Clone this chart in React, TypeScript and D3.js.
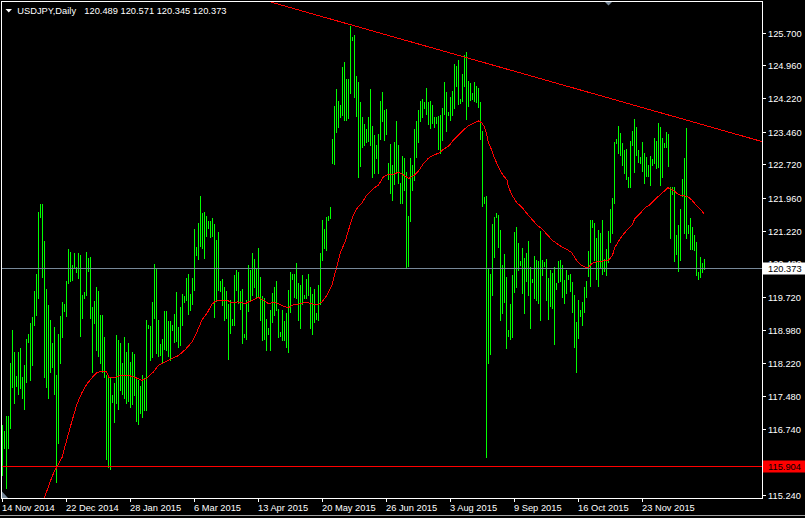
import React from "react";
import * as d3 from "d3";

const symbolTitle = "USDJPY,Daily";
const ohlcText = "120.489 120.571 120.345 120.373";

const highs: number[] = [
  116.82, 116.70, 117.04, 117.04, 118.24, 118.97, 118.47, 117.93, 118.47, 118.56,
  117.91, 118.18, 118.77, 118.88, 119.13, 119.26, 119.85, 120.24, 121.64, 121.82,
  121.82, 120.98, 119.90, 119.54, 119.20, 118.68, 119.04, 117.95, 118.88, 119.29,
  119.60, 119.56, 120.08, 120.80, 120.73, 120.44, 120.71, 120.40, 120.71, 120.67,
  119.76, 119.83, 120.73, 120.60, 120.62, 119.49, 119.63, 119.94, 119.85, 119.31,
  119.31, 118.81, 117.95, 117.91, 117.91, 117.50, 117.77, 118.86, 118.74, 118.68,
  118.22, 118.81, 118.49, 118.68, 118.25, 118.48, 118.44, 117.88, 117.84, 117.72,
  117.97, 117.88, 119.20, 119.08, 119.06, 119.60, 120.46, 120.35, 119.20, 118.65,
  118.77, 119.40, 119.40, 119.17, 119.17, 119.08, 119.33, 119.84, 119.04, 119.50,
  119.78, 119.74, 120.16, 120.25, 119.80, 120.16, 121.26, 120.85, 121.40, 122.00,
  121.62, 121.65, 121.55, 121.44, 121.44, 121.50, 121.38, 121.01, 121.19, 120.09,
  120.14, 119.95, 119.85, 119.57, 119.65, 119.23, 120.21, 120.34, 120.29, 119.86,
  119.90, 118.88, 119.66, 120.44, 120.33, 120.71, 120.59, 120.37, 120.82, 120.18,
  119.74, 119.69, 119.23, 119.01, 119.42, 119.81, 119.95, 120.08, 119.46, 118.93,
  119.42, 119.17, 119.36, 119.87, 120.28, 120.24, 120.25, 120.48, 120.03, 119.99,
  120.21, 119.76, 120.14, 120.25, 119.95, 119.78, 119.91, 119.35, 119.99, 120.71,
  121.46, 121.27, 121.53, 121.55, 121.75, 123.29, 124.04, 124.42, 124.16, 124.06,
  124.91, 125.03, 124.65, 124.64, 125.84, 125.59, 125.65, 124.72, 124.57, 124.14,
  123.80, 123.63, 123.51, 123.78, 124.42, 123.59, 123.38, 123.16, 123.40, 124.15,
  124.36, 123.95, 123.97, 122.76, 123.18, 122.70, 123.23, 123.71, 123.16, 122.30,
  122.91, 122.86, 122.55, 121.55, 122.87, 122.70, 123.51, 123.71, 123.95, 124.15,
  124.19, 124.14, 124.44, 124.14, 124.16, 124.06, 123.78, 123.80, 123.81, 123.84,
  123.99, 124.57, 124.36, 123.91, 124.24, 124.38, 124.99, 124.95, 125.08, 124.19,
  124.76, 125.19, 125.26, 124.61, 124.55, 124.34, 124.57, 124.49, 124.44, 124.14,
  123.48, 121.99, 122.00, 120.37, 120.24, 121.37, 121.52, 121.63, 121.57, 121.23,
  120.44, 120.69, 120.18, 118.97, 119.57, 120.21, 121.19, 121.31, 120.95, 120.54,
  120.82, 120.61, 120.72, 120.98, 120.40, 120.14, 120.64, 120.55, 120.53, 121.21,
  120.55, 120.52, 120.58, 120.15, 120.33, 120.27, 120.39, 120.03, 120.54, 120.55,
  120.44, 120.10, 120.33, 120.21, 120.24, 120.06, 119.76, 119.16, 119.65, 119.42,
  119.61, 119.95, 120.08, 120.76, 121.46, 121.46, 121.40, 121.06, 121.23, 121.17,
  121.46, 120.59, 120.80, 121.21, 121.70, 121.97, 123.23, 123.29, 123.59, 123.42,
  123.21, 123.04, 123.06, 122.44, 123.25, 123.47, 123.74, 123.56, 123.04, 122.88,
  123.23, 122.97, 122.88, 122.70, 122.91, 122.83, 123.31, 123.25, 123.66, 123.56,
  123.31, 123.21, 123.46, 123.41, 122.20, 122.20, 122.20, 121.12, 121.35, 121.70,
  122.40, 122.86, 123.54, 121.35, 121.50, 121.31, 121.12, 120.97, 120.29, 120.63,
  120.48, 120.57,
];

const lows: number[] = [
  115.69, 116.32, 115.41, 116.30, 116.77, 117.68, 117.32, 117.72, 117.54, 117.66,
  117.43, 117.20, 117.79, 118.70, 117.84, 118.18, 119.08, 119.31, 119.69, 121.53,
  120.17, 117.91, 117.68, 117.43, 118.02, 118.13, 117.54, 115.53, 116.43, 118.24,
  118.81, 119.40, 119.29, 120.03, 120.08, 120.10, 120.37, 120.28, 120.15, 118.83,
  119.24, 119.69, 119.76, 120.30, 119.24, 118.02, 119.13, 118.52, 118.38, 118.22,
  118.02, 117.91, 116.07, 115.89, 115.84, 117.34, 116.89, 117.32, 117.20, 117.61,
  117.54, 117.45, 117.32, 117.38, 117.23, 117.31, 117.50, 116.93, 116.86, 117.09,
  117.01, 117.16, 117.16, 119.01, 118.29, 118.36, 119.25, 118.46, 118.39, 118.40,
  118.22, 118.55, 118.52, 118.39, 118.29, 118.97, 118.70, 118.73, 118.59, 118.63,
  119.08, 119.61, 119.65, 119.33, 119.42, 119.57, 119.87, 120.67, 120.59, 120.87,
  120.82, 120.61, 121.10, 121.29, 121.07, 121.10, 119.27, 119.63, 119.87, 119.86,
  119.54, 119.20, 119.25, 118.31, 118.91, 119.10, 119.08, 119.87, 119.59, 119.44,
  118.69, 118.82, 118.78, 119.41, 119.65, 119.76, 119.95, 119.72, 119.72, 119.20,
  118.74, 118.78, 118.52, 118.89, 118.52, 119.16, 119.31, 119.42, 118.82, 118.83,
  118.76, 118.76, 118.59, 118.48, 119.38, 120.14, 119.72, 119.69, 119.20, 119.03,
  119.57, 119.69, 119.69, 119.76, 119.01, 118.88, 119.16, 119.23, 119.20, 119.57,
  120.55, 120.82, 120.78, 121.46, 121.50, 122.74, 122.73, 123.46, 123.57, 123.80,
  123.84, 123.72, 123.72, 123.76, 124.33, 125.52, 124.25, 123.81, 122.43, 122.68,
  123.12, 123.16, 123.23, 123.25, 123.16, 122.44, 122.53, 122.86, 122.53, 123.29,
  123.69, 123.27, 123.41, 122.38, 122.08, 121.91, 122.27, 122.55, 122.29, 121.85,
  121.85, 122.15, 120.37, 120.42, 121.44, 122.14, 122.37, 122.89, 123.23, 123.70,
  123.78, 123.99, 123.86, 123.63, 123.54, 123.65, 123.56, 123.65, 123.06, 122.97,
  123.27, 123.86, 123.48, 123.84, 123.72, 123.84, 123.99, 124.48, 124.09, 124.10,
  124.16, 124.48, 123.75, 124.04, 124.18, 124.19, 124.16, 124.12, 124.02, 123.29,
  121.78, 121.84, 116.10, 118.23, 118.43, 119.76, 120.63, 121.52, 120.85, 119.20,
  119.35, 119.61, 118.57, 118.83, 118.78, 118.82, 119.84, 119.95, 120.34, 120.44,
  119.81, 119.36, 120.09, 119.76, 119.02, 120.06, 119.69, 119.65, 119.59, 119.21,
  120.21, 120.42, 119.65, 119.23, 119.51, 119.47, 118.67, 119.91, 120.06, 120.09,
  119.72, 119.59, 119.81, 120.12, 119.86, 119.38, 118.59, 118.02, 118.79, 119.29,
  119.10, 119.38, 119.72, 120.19, 119.97, 121.31, 120.55, 120.14, 119.97, 120.39,
  120.24, 120.31, 120.21, 120.51, 120.97, 121.17, 121.84, 123.20, 122.97, 122.93,
  122.70, 122.52, 122.40, 122.21, 122.20, 123.16, 122.55, 122.93, 122.78, 122.74,
  122.58, 122.29, 122.46, 122.46, 122.25, 122.70, 122.74, 122.63, 122.65, 122.25,
  122.44, 123.12, 123.12, 122.68, 121.05, 122.05, 120.54, 120.69, 120.31, 120.55,
  122.00, 121.17, 121.05, 121.17, 120.80, 120.80, 120.78, 120.21, 120.12, 120.18,
  120.29, 120.35,
];

// moving average, read as [bar index, price]
const maPoints: [number, number][] = [
  [19, 114.89], [21, 115.19], [24, 115.57], [25.7, 115.76], [27.3, 115.89], [29.8, 116.10],
  [32.3, 116.52], [34.8, 116.93], [37.3, 117.31], [39.8, 117.57], [42.3, 117.76], [44.8, 117.90],
  [47.3, 118.02], [50.7, 118.04], [52, 118.03], [53.2, 117.91], [55.7, 117.89], [57.3, 117.93],
  [59.8, 117.95], [63, 117.95], [66, 117.91], [69.7, 117.84], [72, 117.88], [75.5, 118.03],
  [78, 118.18], [81.3, 118.25], [84.7, 118.33], [88, 118.40], [91.3, 118.53], [94.7, 118.70],
  [97.2, 118.93], [99.7, 119.20], [102.2, 119.35], [104.7, 119.56], [107.2, 119.65], [112.2, 119.65],
  [114.7, 119.59], [117.2, 119.61], [119.7, 119.60], [121.3, 119.57], [123, 119.61], [125.5, 119.66],
  [128, 119.71], [130.5, 119.65], [133, 119.57], [135.5, 119.60], [138, 119.57], [140.5, 119.51],
  [143, 119.48], [145.5, 119.55], [148, 119.56], [150.5, 119.59], [153, 119.59], [155.5, 119.56],
  [158, 119.56], [159.7, 119.61], [162.2, 119.76], [164.7, 119.99], [166.7, 120.33], [168.8, 120.71],
  [171.3, 120.97], [173, 121.23], [175, 121.53], [177.2, 121.72], [179.7, 121.85], [182.2, 122.03],
  [183, 122.06], [185.5, 122.18], [188, 122.25], [190.5, 122.44], [193, 122.49], [195.5, 122.50],
  [198, 122.54], [200.5, 122.48], [203, 122.40], [205.5, 122.46], [208, 122.57], [210.5, 122.74],
  [213, 122.86], [215.5, 122.93], [218, 122.97], [220.5, 123.06], [223, 123.13], [225.5, 123.27],
  [228, 123.38], [230.5, 123.50], [233, 123.59], [235.5, 123.65], [238, 123.70], [239.7, 123.66],
  [241, 123.56], [242.2, 123.38], [243, 123.20], [244, 123.11], [246, 122.86], [248, 122.66],
  [250, 122.49], [252.2, 122.37], [253, 122.21], [254.7, 122.03], [257.2, 121.85], [259.7, 121.75],
  [262.2, 121.61], [264.7, 121.48], [267.2, 121.35], [269.7, 121.26], [272.2, 121.14], [274.7, 121.01],
  [277.2, 120.93], [279.7, 120.85], [282.2, 120.80], [284.7, 120.72], [286.7, 120.57], [288.8, 120.46],
  [291.3, 120.40], [293, 120.39], [294.7, 120.48], [296.3, 120.51], [298.8, 120.53], [301.3, 120.54],
  [303, 120.55], [305, 120.67], [306.3, 120.85], [308, 120.98], [309.7, 121.10], [312.2, 121.23],
  [314.7, 121.35], [316.3, 121.50], [318.8, 121.61], [321.3, 121.74], [323.8, 121.81], [326.3, 121.93],
  [328.8, 122.03], [330.5, 122.10], [332.7, 122.19], [334.3, 122.16], [336.3, 122.10], [338.3, 122.03],
  [340.5, 122.01], [342.7, 121.99], [344.7, 121.91], [347.2, 121.78], [350.8, 121.61],
];

const trendAnchors: [number, number][] = [[201, 125.53], [349, 123.63]];

const priceTicks: string[] = [
  "125.700", "124.960", "124.220", "123.460", "122.720", "121.960", "121.220", "120.480",
  "119.720", "118.980", "118.220", "117.480", "116.740", "115.980", "115.240",
];

const dateTickBars: number[] = [0, 32, 64, 96, 128, 160, 192, 224, 256, 288, 320];
const dateTickLabels: string[] = [
  "14 Nov 2014", "22 Dec 2014", "28 Jan 2015", "6 Mar 2015", "13 Apr 2015", "20 May 2015",
  "26 Jun 2015", "3 Aug 2015", "9 Sep 2015", "16 Oct 2015", "23 Nov 2015",
];

const supportLevel = 115.904;
const lastPrice = 120.373;
const shiftMarkerBar = 303;

const W = 805;
const H = 518;
const FONT = "'Liberation Sans', Arial, sans-serif";
const FS = 9.3;

export default function App() {
  const n = highs.length;
  const x = d3.scaleLinear().domain([0, n - 1]).range([2.5, 2.5 + 2 * (n - 1)]);
  const y = d3.scaleLinear().domain([115.24, 125.7]).range([495.3, 32.5]);

  const frame = { l: 1.5, t: 1.5, r: 762.5, b: 498.5 };

  const maLine = d3
    .line<[number, number]>()
    .x((d) => x(d[0]))
    .y((d) => y(d[1]));

  const slope = (trendAnchors[1][1] - trendAnchors[0][1]) / (trendAnchors[1][0] - trendAnchors[0][0]);
  const trendPts: [number, number][] = [120, 400].map((i) => [i, trendAnchors[0][1] + slope * (i - trendAnchors[0][0])]);

  const supY = Math.round(y(supportLevel)) + 0.5;
  const lastY = Math.round(y(lastPrice)) + 0.5;
  const mx = x(shiftMarkerBar);

  return (
    <div style={{ position: "fixed", left: 0, top: 0, width: W, height: H, background: "#000" }}>
      <svg width={W} height={H} style={{ display: "block" }} fontFamily={FONT}>
        <defs>
          <clipPath id="plotClip">
            <rect x={2} y={2} width={760} height={496} />
          </clipPath>
        </defs>
        <rect x={0} y={0} width={W} height={H} fill="#000" />

        <g clipPath="url(#plotClip)">
          {highs.map((h, i) => {
            const top = Math.round(y(h));
            const bot = Math.round(y(lows[i]));
            return (
              <rect
                key={i}
                x={Math.floor(x(i))}
                y={top}
                width={1}
                height={Math.max(1, bot - top + 1)}
                fill="#00ff00"
                shapeRendering="crispEdges"
              />
            );
          })}
          <path d={maLine(maPoints) || ""} fill="none" stroke="#ff0000" strokeWidth={1} shapeRendering="crispEdges" />
          <line x1={frame.l} x2={frame.r} y1={lastY} y2={lastY} stroke="#778899" strokeWidth={1} shapeRendering="crispEdges" />
          <line x1={frame.l} x2={frame.r} y1={supY} y2={supY} stroke="#ff0000" strokeWidth={1} shapeRendering="crispEdges" />
          <path d={maLine(trendPts) || ""} fill="none" stroke="#ff0000" strokeWidth={1} shapeRendering="crispEdges" />
        </g>

        {/* markers */}
        <polygon points={`${mx - 4},1.5 ${mx + 4},1.5 ${mx},5.5`} fill="#778899" />
        <polygon points="2,491.5 2,498 8,498" fill="#778899" />

        {/* frame */}
        <rect
          x={frame.l}
          y={frame.t}
          width={frame.r - frame.l}
          height={frame.b - frame.t}
          fill="none"
          stroke="#ffffff"
          strokeWidth={1}
          shapeRendering="crispEdges"
        />

        {/* price axis */}
        {priceTicks.map((t) => {
          const ty = Math.round(y(+t)) + 0.5;
          return (
            <g key={t}>
              <line x1={762.5} x2={766} y1={ty} y2={ty} stroke="#ffffff" strokeWidth={1} shapeRendering="crispEdges" />
              <text x={768} y={ty + 3.3} fill="#ffffff" fontSize={FS}>
                {t}
              </text>
            </g>
          );
        })}

        {/* price boxes */}
        <rect x={763} y={lastY - 6} width={42} height={12} fill="#ffffff" />
        <text x={768} y={lastY + 3.3} fill="#000000" fontSize={FS}>
          {lastPrice.toFixed(3)}
        </text>
        <rect x={763} y={supY - 6} width={42} height={12} fill="#ff0000" />
        <text x={768} y={supY + 3.3} fill="#000000" fontSize={FS}>
          {supportLevel.toFixed(3)}
        </text>

        {/* date axis */}
        {dateTickBars.map((b, k) => {
          const tx = Math.floor(x(b)) + 0.5;
          return (
            <g key={b}>
              <line x1={tx} x2={tx} y1={498.5} y2={502} stroke="#ffffff" strokeWidth={1} shapeRendering="crispEdges" />
              <text x={tx - 0.5} y={511} fill="#ffffff" fontSize={FS}>
                {dateTickLabels[k]}
              </text>
            </g>
          );
        })}

        {/* title */}
        <polygon points="5.5,9 12,9 8.75,12.5" fill="#ffffff" />
        <text x={17.3} y={14} fill="#ffffff" fontSize={FS}>
          {symbolTitle}
        </text>
        <text x={84.3} y={14} fill="#ffffff" fontSize={FS}>
          {ohlcText}
        </text>

        <line x1={0} x2={W} y1={515.5} y2={515.5} stroke="#a0a0a0" strokeWidth={1} />
      </svg>
    </div>
  );
}
